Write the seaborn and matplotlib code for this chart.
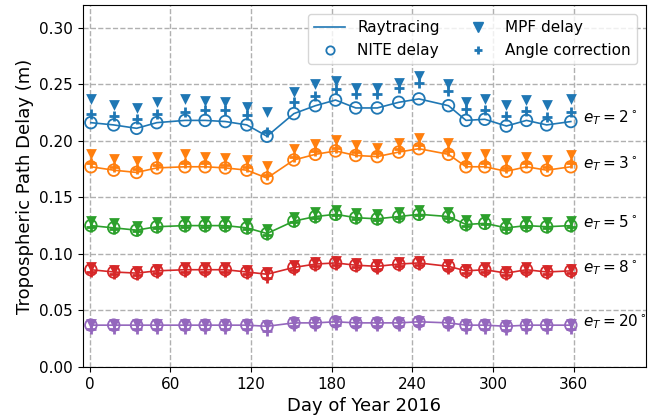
import matplotlib
matplotlib.use("Agg")
import matplotlib.pyplot as plt
import seaborn as sns
import pandas as pd
from matplotlib.lines import Line2D

days = [1, 18, 35, 50, 71, 86, 101, 117, 132, 152, 168, 183, 198, 214, 230, 245, 267, 280, 294, 310, 325, 340, 358]
elev_labels = ["2", "3", "5", "8", "20"]

nite_2 = [0.216, 0.214, 0.211, 0.216, 0.218, 0.218, 0.217, 0.214, 0.204, 0.224, 0.231, 0.236, 0.229, 0.229, 0.234, 0.237, 0.231, 0.218, 0.219, 0.213, 0.218, 0.214, 0.217]
mpf_2 = [0.237, 0.232, 0.229, 0.234, 0.237, 0.235, 0.234, 0.230, 0.225, 0.243, 0.250, 0.253, 0.247, 0.247, 0.251, 0.257, 0.250, 0.234, 0.237, 0.232, 0.236, 0.232, 0.237]
ang_2 = [0.224, 0.222, 0.219, 0.224, 0.225, 0.227, 0.227, 0.223, 0.208, 0.234, 0.240, 0.246, 0.241, 0.241, 0.247, 0.251, 0.244, 0.228, 0.227, 0.222, 0.226, 0.221, 0.225]

nite_3 = [0.177, 0.174, 0.172, 0.176, 0.177, 0.177, 0.176, 0.174, 0.167, 0.183, 0.188, 0.191, 0.187, 0.186, 0.190, 0.193, 0.188, 0.177, 0.177, 0.173, 0.177, 0.174, 0.177]
mpf_3 = [0.188, 0.184, 0.182, 0.186, 0.188, 0.186, 0.185, 0.183, 0.178, 0.193, 0.197, 0.201, 0.196, 0.194, 0.198, 0.202, 0.198, 0.186, 0.188, 0.183, 0.186, 0.183, 0.187]
ang_3 = [0.180, 0.177, 0.175, 0.179, 0.180, 0.180, 0.179, 0.177, 0.170, 0.186, 0.191, 0.194, 0.190, 0.189, 0.193, 0.196, 0.191, 0.180, 0.180, 0.176, 0.180, 0.177, 0.180]

nite_5 = [0.125, 0.123, 0.121, 0.124, 0.125, 0.125, 0.125, 0.123, 0.118, 0.129, 0.133, 0.135, 0.132, 0.131, 0.133, 0.135, 0.133, 0.126, 0.127, 0.123, 0.125, 0.124, 0.125]
mpf_5 = [0.129, 0.127, 0.125, 0.128, 0.129, 0.129, 0.129, 0.127, 0.122, 0.133, 0.137, 0.139, 0.136, 0.135, 0.137, 0.139, 0.137, 0.130, 0.131, 0.127, 0.129, 0.128, 0.129]
ang_5 = [0.124, 0.122, 0.120, 0.123, 0.124, 0.124, 0.124, 0.122, 0.117, 0.128, 0.132, 0.134, 0.131, 0.130, 0.132, 0.134, 0.132, 0.125, 0.126, 0.122, 0.124, 0.123, 0.124]

nite_8 = [0.086, 0.084, 0.083, 0.085, 0.086, 0.086, 0.086, 0.084, 0.082, 0.088, 0.091, 0.092, 0.090, 0.089, 0.091, 0.092, 0.089, 0.085, 0.086, 0.083, 0.086, 0.084, 0.085]
mpf_8 = [0.088, 0.086, 0.085, 0.087, 0.088, 0.088, 0.088, 0.086, 0.084, 0.090, 0.093, 0.094, 0.092, 0.091, 0.093, 0.094, 0.091, 0.087, 0.088, 0.085, 0.088, 0.086, 0.087]
ang_8 = [0.084, 0.082, 0.081, 0.083, 0.084, 0.084, 0.084, 0.082, 0.079, 0.086, 0.089, 0.090, 0.088, 0.087, 0.089, 0.090, 0.087, 0.083, 0.084, 0.081, 0.084, 0.082, 0.083]

nite_20 = [0.037, 0.037, 0.037, 0.037, 0.037, 0.037, 0.037, 0.037, 0.036, 0.039, 0.039, 0.040, 0.039, 0.039, 0.039, 0.040, 0.039, 0.037, 0.037, 0.036, 0.037, 0.037, 0.037]
mpf_20 = [0.038, 0.038, 0.038, 0.038, 0.038, 0.038, 0.038, 0.038, 0.037, 0.040, 0.040, 0.041, 0.040, 0.040, 0.040, 0.041, 0.040, 0.038, 0.038, 0.037, 0.038, 0.038, 0.038]
ang_20 = [0.034, 0.034, 0.034, 0.034, 0.034, 0.034, 0.034, 0.034, 0.032, 0.036, 0.036, 0.037, 0.036, 0.036, 0.036, 0.037, 0.036, 0.034, 0.034, 0.033, 0.034, 0.034, 0.034]

ray_2, ray_3, ray_5, ray_8, ray_20 = nite_2, nite_3, nite_5, nite_8, nite_20

groups = [
    ("2", ray_2, nite_2, mpf_2, ang_2),
    ("3", ray_3, nite_3, mpf_3, ang_3),
    ("5", ray_5, nite_5, mpf_5, ang_5),
    ("8", ray_8, nite_8, mpf_8, ang_8),
    ("20", ray_20, nite_20, mpf_20, ang_20),
]
label_offsets = [0.003, 0.003, 0.003, 0.003, 0.003]

colors = ["#1f77b4", "#ff7f0e", "#2ca02c", "#d62728", "#9467bd"]

fig = plt.figure(figsize=(6.52, 4.18), dpi=100)
ax = fig.add_axes([0.127, 0.122, 0.864, 0.866])

for (lab, ray, nite, mpf, ang), c, off in zip(groups, colors, label_offsets):
    df = pd.DataFrame({"day": days, "ray": ray, "nite": nite, "mpf": mpf, "ang": ang})
    sns.lineplot(data=df, x="day", y="ray", color=c, linewidth=1.2, ax=ax, zorder=2)
    sns.scatterplot(data=df, x="day", y="nite", marker="o", s=70, facecolors="none",
                    edgecolor=c, linewidth=1.3, ax=ax, zorder=3)
    sns.scatterplot(data=df, x="day", y="mpf", marker="v", s=60, color=c,
                    edgecolor=c, linewidth=0, ax=ax, zorder=3)
    sns.scatterplot(data=df, x="day", y="ang", marker="+", s=45, color=c,
                    linewidth=2, ax=ax, zorder=4)
    ax.text(367, nite[-1] + off, r"$e_T = %s^\circ$" % lab, fontsize=11,
            ha="left", va="center")

ax.set_xlim(-5, 414)
ax.set_ylim(0, 0.32)
ax.set_xticks([0, 60, 120, 180, 240, 300, 360])
ax.set_yticks([0.0, 0.05, 0.10, 0.15, 0.20, 0.25, 0.30])
ax.yaxis.set_major_formatter(matplotlib.ticker.FormatStrFormatter("%.2f"))
ax.grid(True, linestyle="--", color="#b0b0b0", linewidth=1)
ax.set_axisbelow(True)
ax.tick_params(labelsize=11)
ax.set_xlabel("Day of Year 2016", fontsize=13)
ax.set_ylabel("Tropospheric Path Delay (m)", fontsize=13)

c0 = colors[0]
handles = [
    Line2D([], [], color=c0, linewidth=1.2),
    Line2D([], [], color=c0, marker="o", linestyle="none", markerfacecolor="none", markersize=6, markeredgewidth=1.3),
    Line2D([], [], color=c0, marker="v", linestyle="none", markersize=7),
    Line2D([], [], color=c0, marker="+", linestyle="none", markersize=6, markeredgewidth=2),
]
labels = ["Raytracing", "NITE delay", "MPF delay", "Angle correction"]
ax.legend(handles, labels, loc="upper right", ncol=2, fontsize=11,
          handlelength=2.0, columnspacing=1.5, borderaxespad=0.6)

fig.savefig("out.png", dpi=100)
